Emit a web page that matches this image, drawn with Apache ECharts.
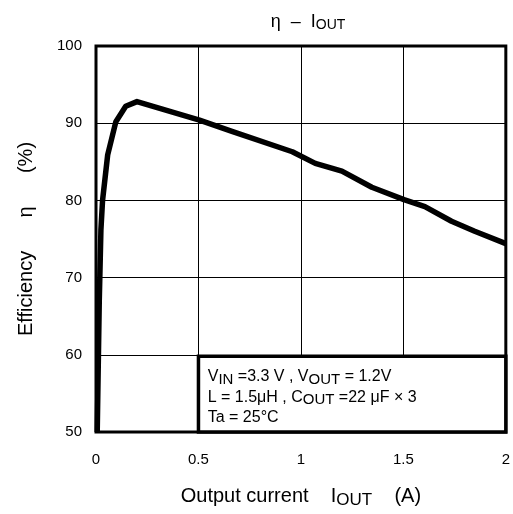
<!DOCTYPE html>
<html>
<head>
<meta charset="utf-8">
<script src="https://cdn.jsdelivr.net/npm/echarts@6/dist/echarts.min.js"></script>
<style>html,body{margin:0;padding:0;background:#fff}#c{width:513px;height:514px}</style>
</head>
<body>
<div id="c"></div>
<script>
// Output current (A)
const currentA = [0.006, 0.016, 0.024, 0.032, 0.057, 0.097, 0.145, 0.2, 0.505, 0.667, 0.958, 1.07, 1.2, 1.346, 1.503, 1.605, 1.735, 1.848, 2.0];
// Efficiency (%)
const efficiency = [50, 67, 76.2, 80, 85.9, 90.2, 92.2, 92.8, 90.4, 88.9, 86.3, 84.8, 83.8, 81.7, 80.1, 79.2, 77.3, 76.0, 74.4];
const xTicks = ['0', '0.5', '1', '1.5', '2'];
const yTicks = [50, 60, 70, 80, 90, 100];
const noteBox = { x0: 0.5, x1: 2, y0: 50, y1: 59.8 };
const noteLines = [
  '{n|V}{s|IN}{n| =3.3 V , V}{s|OUT}{n| = 1.2V}',
  '{n|L = 1.5μH , C}{s|OUT}{n| =22 μF × 3}',
  '{n|Ta = 25°C}'
];

const FONT = '"Liberation Sans", Arial, sans-serif';
const chart = echarts.init(document.getElementById('c'), null, { renderer: 'canvas' });
const txt = (size, lh) => ({ fontSize: size, fontFamily: FONT, color: '#000', fontWeight: 'normal', lineHeight: lh });
const sub = (size, pad, lh) => Object.assign(txt(size, lh), { padding: [pad, 0, 0, 0] });

chart.setOption({
  animation: false,
  backgroundColor: '#fff',
  title: {
    text: '{a|η  –  I}{s|OUT}',
    left: 303, top: 6, textAlign: 'center',
    textStyle: {
      rich: { a: txt(18, 22), s: sub(14, 7, 22) }
    }
  },
  grid: { left: 96, right: 3, top: 46, bottom: 81, show: true, borderColor: '#000', borderWidth: 3, backgroundColor: 'transparent' },
  xAxis: {
    type: 'value', min: 0, max: 2, interval: 0.5,
    name: '{a|Output current    I}{s|OUT}{a|    (A)}',
    nameLocation: 'middle', nameGap: 52,
    nameTextStyle: { rich: { a: txt(20, 24), s: sub(17, 9, 24) } },
    axisLine: { show: false }, axisTick: { show: false },
    axisLabel: { margin: 20, fontSize: 15, fontFamily: FONT, color: '#000',
      formatter: (v) => xTicks[Math.round(v / 0.5)] },
    splitLine: { show: true, lineStyle: { color: '#000', width: 1 } }
  },
  yAxis: {
    type: 'value', min: yTicks[0], max: yTicks[yTicks.length - 1], interval: 10,
    name: 'Efficiency      η      (%)',
    nameLocation: 'middle', nameGap: 60, nameRotate: 90,
    nameTextStyle: { fontSize: 20, fontFamily: FONT, color: '#000' },
    axisLine: { show: false }, axisTick: { show: false },
    axisLabel: { margin: 14, fontSize: 15, fontFamily: FONT, color: '#000' },
    splitLine: { show: true, lineStyle: { color: '#000', width: 1 } }
  },
  series: [{
    type: 'line',
    data: currentA.map((x, i) => [x, efficiency[i]]),
    symbol: 'none',
    lineStyle: { color: '#000', width: 5.5, join: 'round' },
    markArea: {
      silent: true,
      itemStyle: { color: '#fff', borderColor: '#000', borderWidth: 3.5 },
      label: {
        show: true, position: [11, 12],
        formatter: noteLines.join('\n'),
        rich: { n: txt(16, 20.5), s: sub(15, 6, 20.5) }
      },
      data: [[{ coord: [noteBox.x0, noteBox.y1] }, { coord: [noteBox.x1, noteBox.y0] }]]
    }
  }]
});
</script>
</body>
</html>
